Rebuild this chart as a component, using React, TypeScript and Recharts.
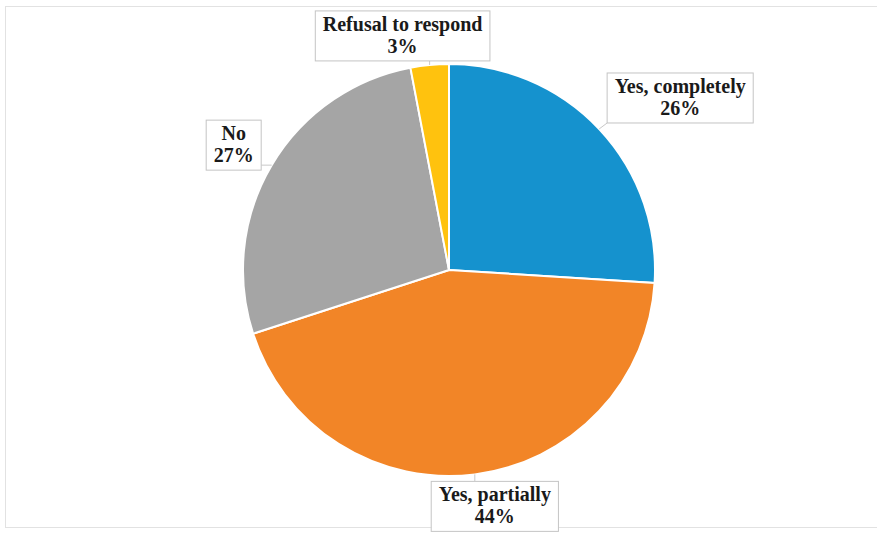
import React from 'react';
import { PieChart, Pie, Cell } from 'recharts';

const categories = ['Yes, completely', 'Yes, partially', 'No', 'Refusal to respond'];
const shares = [26, 44, 27, 3];
const sliceColors = ['#1592CE', '#F28527', '#A5A5A5', '#FFC20E'];

// how far each label box sits from the slice edge (Excel placed them by hand)
const labelNudge: Record<string, [number, number]> = {
    'Yes, completely': [81, -31],
    'Yes, partially': [20, 32],
    'No': [-38, -20],
    'Refusal to respond': [-27, -29],
};

const data = categories.map((name, i) => ({ name, value: shares[i] }));

const FAMILY = 'Liberation Serif, Times New Roman, DejaVu Serif, serif';
const FONT_SIZE = 20;
const RADIAN = Math.PI / 180;

let ctx: CanvasRenderingContext2D | null = null;
const textWidth = (s: string) => {
    if (!ctx) ctx = document.createElement('canvas').getContext('2d');
    if (!ctx) return s.length * 9;
    ctx.font = `bold ${FONT_SIZE}px "Liberation Serif", serif`;
    return ctx.measureText(s).width;
};

const BoxLabel = (props: any) => {
    const { cx, cy, midAngle, outerRadius, name, value } = props;
    const ex = cx + outerRadius * Math.cos(-midAngle * RADIAN);
    const ey = cy + outerRadius * Math.sin(-midAngle * RADIAN);
    const [dx, dy] = labelNudge[name] || [0, 0];
    const bx = ex + dx;
    const by = ey + dy;
    const line2 = `${value}%`;
    const w = Math.max(textWidth(name), textWidth(line2)) + 15;
    const h = 50;
    const left = bx - w / 2;
    const top = by - h / 2;
    // leader goes to the nearest point of the box
    const lx = Math.min(Math.max(ex, left), left + w);
    const ly = Math.min(Math.max(ey, top), top + h);
    const txtStyle = { fontFamily: FAMILY, fontWeight: 700, fontSize: FONT_SIZE };

    return (
        <g className="box-label">
            <line x1={ex} y1={ey} x2={lx} y2={ly} stroke="#C8C8C8" strokeWidth={1} />
            <rect x={left} y={top} width={w} height={h} fill="#fff" stroke="#C4C4C4" strokeWidth={1} />
            <text x={bx} y={by - 5} textAnchor="middle" fill="#1a1a1a" style={txtStyle}>
                {name}
            </text>
            <text x={bx} y={by + 17} textAnchor="middle" fill="#1a1a1a" style={txtStyle}>
                {line2}
            </text>
        </g>
    );
};

const App: React.FC = () => {
    return (
        <div style={{ position: 'absolute', left: 0, top: 0, width: 877, height: 534, background: '#fff' }}>
            <div
                style={{
                    position: 'absolute',
                    left: 5,
                    top: 6,
                    width: 880,
                    height: 522,
                    border: '1px solid #E2E2E2',
                    boxSizing: 'border-box',
                }}
            />
            <div style={{ position: 'absolute', left: 0, top: 0 }}>
                <PieChart width={877} height={534} margin={{ top: 0, right: 0, bottom: 0, left: 0 }}>
                    <Pie
                        data={data}
                        dataKey="value"
                        nameKey="name"
                        cx={449}
                        cy={270}
                        outerRadius={206}
                        startAngle={90}
                        endAngle={-270}
                        stroke="#fff"
                        strokeWidth={2}
                        label={BoxLabel}
                        labelLine={false}
                        isAnimationActive={false}
                    >
                        {data.map((d, i) => (
                            <Cell key={d.name} fill={sliceColors[i]} />
                        ))}
                    </Pie>
                </PieChart>
            </div>
        </div>
    );
};

export default App;
